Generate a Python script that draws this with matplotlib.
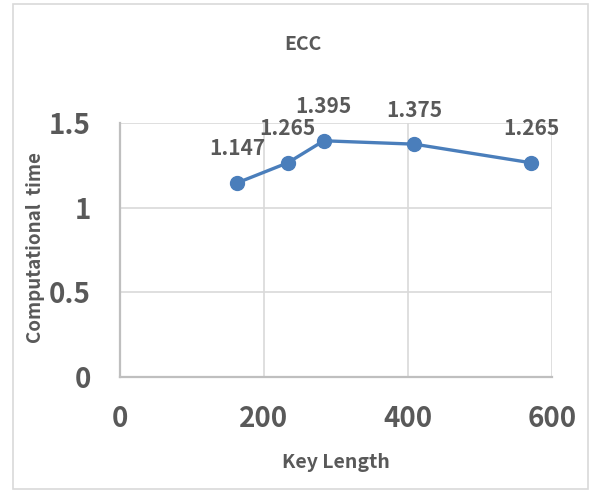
import matplotlib
matplotlib.use('Agg')
import matplotlib.pyplot as plt
from matplotlib.patches import Rectangle

key_length = [163, 233, 283, 409, 571]
comp_time = [1.147, 1.265, 1.395, 1.375, 1.265]
value_labels = ['1.147', '1.265', '1.395', '1.375', '1.265']

plt.rcParams['font.family'] = ['Noto Sans CJK KR', 'DejaVu Sans']
text_col = '#595959'
line_col = '#4a7ebb'

fig = plt.figure(figsize=(5.95, 4.9), dpi=100)
ax = fig.add_axes([120 / 595, 1 - 377 / 490, 432 / 595, 254 / 490])

# chart border
fig.patches.append(Rectangle((13 / 595, 1 / 490), 575 / 595, 485 / 490,
                             transform=fig.transFigure, fill=False,
                             edgecolor='#d9d9d9', linewidth=1.2))

ax.plot(key_length, comp_time, color=line_col, linewidth=2.4,
        marker='o', markersize=10, zorder=3, clip_on=False)

for x, y, s in zip(key_length, comp_time, value_labels):
    ax.annotate(s, (x, y), xytext=(0, 24.5), textcoords='offset points',
                ha='center', va='center', fontsize=15, fontweight='bold',
                color=text_col)

ax.set_xlim(0, 600)
ax.set_ylim(0, 1.5)
ax.set_xticks([0, 200, 400, 600])
ax.set_yticks([0, 0.5, 1, 1.5])
ax.set_yticklabels(['0', '0.5', '1', '1.5'])
ax.grid(True, color='#d9d9d9', linewidth=1.2)
ax.set_axisbelow(True)

for side in ['top', 'right']:
    ax.spines[side].set_visible(False)
for side in ['left', 'bottom']:
    ax.spines[side].set_color('#bfbfbf')
    ax.spines[side].set_linewidth(1.6)

ax.tick_params(length=0, labelsize=20, labelcolor=text_col)
ax.tick_params(axis='x', pad=20)
ax.tick_params(axis='y', pad=21)
for lbl in ax.get_xticklabels() + ax.get_yticklabels():
    lbl.set_fontweight('bold')

fig.text(303 / 595, 1 - 44 / 490, 'ECC', ha='center', va='center',
         fontsize=14, fontweight='bold', color=text_col)
fig.text(336 / 595, 1 - 462 / 490, 'Key Length', ha='center', va='center',
         fontsize=14, fontweight='bold', color=text_col)
fig.text(36 / 595, 1 - 248 / 490, 'Computational  time', ha='center',
         va='center', rotation=90, fontsize=13.5, fontweight='bold',
         color=text_col)

fig.savefig('out.png', dpi=100)
